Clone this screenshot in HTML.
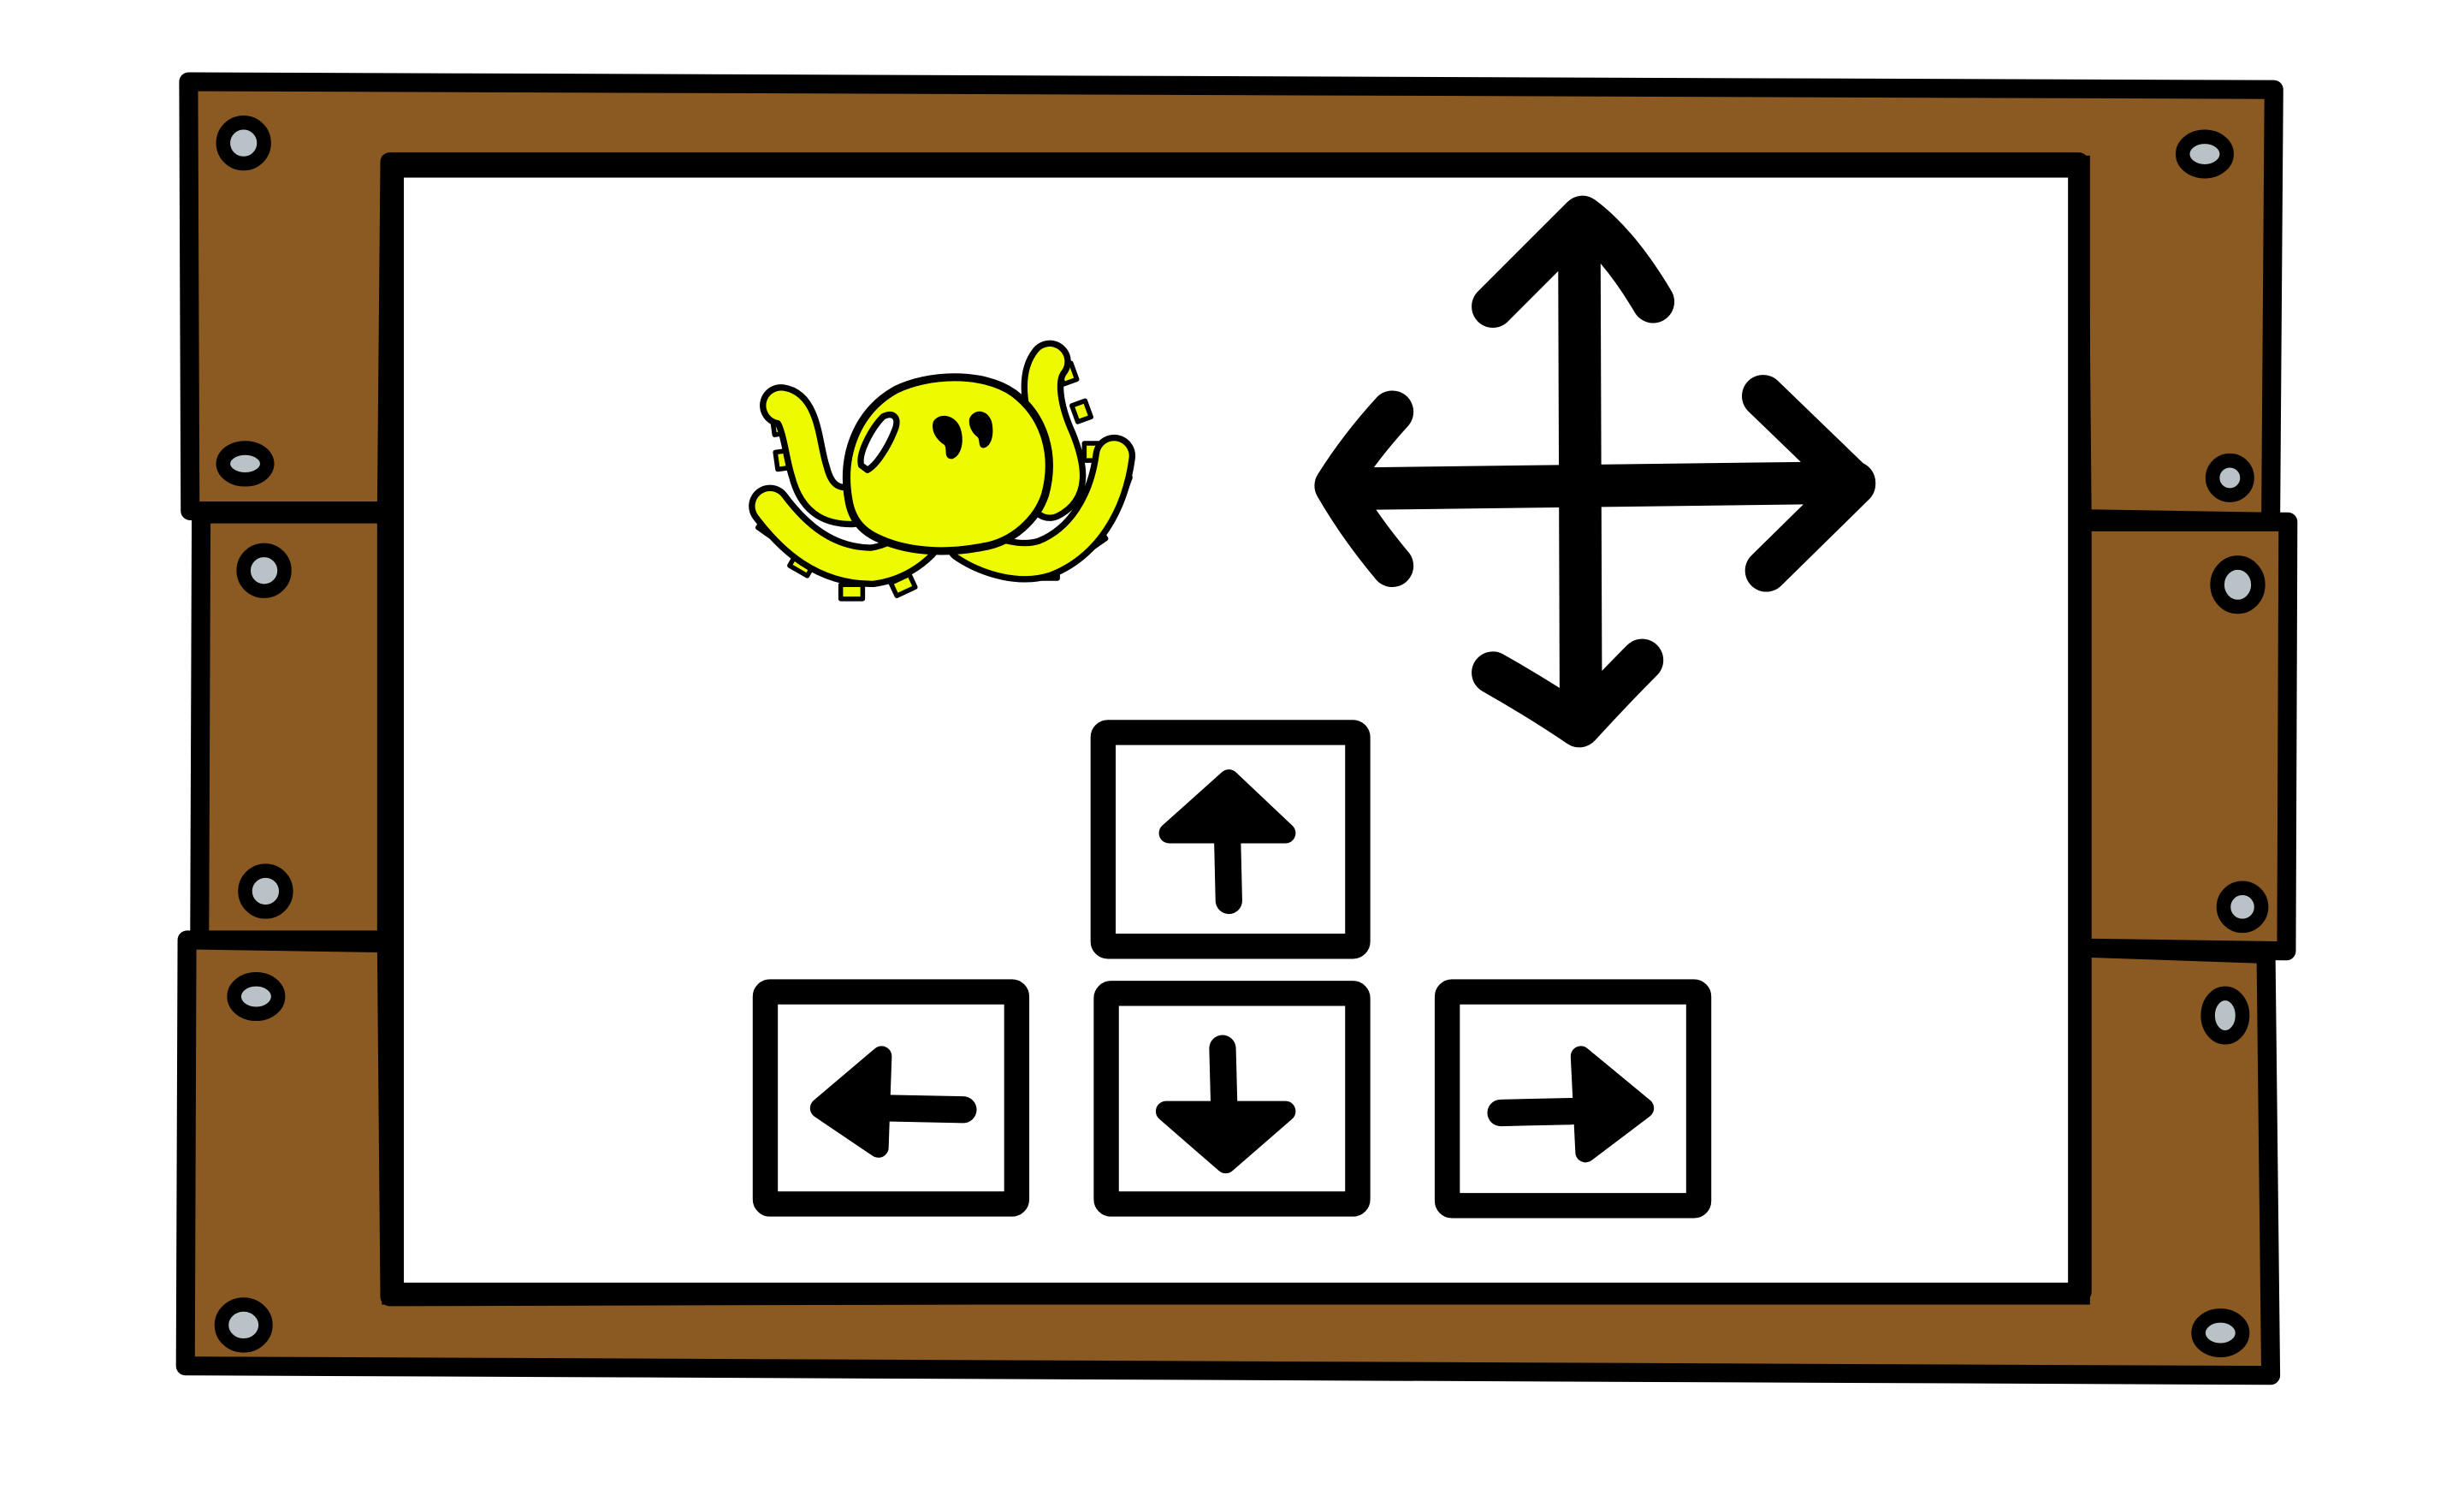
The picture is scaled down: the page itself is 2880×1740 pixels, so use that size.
<!DOCTYPE html>
<html><head><meta charset="utf-8"><style>
html,body{margin:0;padding:0;background:#fff;width:2880px;height:1740px;overflow:hidden}
svg{display:block}
</style></head><body>
<svg width="2880" height="1740" viewBox="0 0 1568 947.3" preserveAspectRatio="none" xmlns="http://www.w3.org/2000/svg">
<g stroke="#000" stroke-width="12" stroke-linejoin="round" fill="#8B5A22">
  <path d="M120,52 L1447,57 L1445,332 L1325,330 L1323,103 L248,103 L246,325 L121,325 Z"/>
  <path d="M128,327 L246,327 L246,598 L127,598 Z"/>
  <path d="M1325,332 L1456,332 L1455,605 L1325,603 Z"/>
  <path d="M119,598 L246,600 L248,825 L1325,822 L1325,603 L1442,607 L1445,875 L118,869 Z"/>
</g>
<rect x="250" y="106" width="1073" height="717" fill="#fff" stroke="#000" stroke-width="14"/>
<g fill="#b9c2c6" stroke="#000" stroke-width="9">
  <ellipse cx="155" cy="91" rx="13" ry="13"/>
  <ellipse cx="156" cy="295" rx="14" ry="10"/>
  <ellipse cx="168" cy="363" rx="13" ry="13"/>
  <ellipse cx="169" cy="567" rx="13" ry="13"/>
  <ellipse cx="163" cy="634" rx="14" ry="11"/>
  <ellipse cx="155" cy="843" rx="14" ry="13"/>
  <ellipse cx="1403" cy="98" rx="14" ry="11"/>
  <ellipse cx="1419" cy="304" rx="11" ry="11"/>
  <ellipse cx="1424" cy="372" rx="13" ry="14"/>
  <ellipse cx="1427" cy="577" rx="12" ry="12"/>
  <ellipse cx="1416" cy="646" rx="11" ry="14"/>
  <ellipse cx="1413" cy="848" rx="14" ry="11"/>
</g>
<g stroke-linecap="round" stroke-linejoin="round" fill="none">
  <g fill="#eefb00" stroke="#000" stroke-width="3">
    <rect x="492" y="265" width="9" height="11" transform="rotate(-8 497 270)"/>
    <rect x="494" y="287" width="9" height="11" transform="rotate(-8 499 292)"/>
    <rect x="484" y="331" width="12" height="9" transform="rotate(35 490 335)"/>
    <rect x="504" y="355" width="13" height="9" transform="rotate(30 511 359)"/>
    <rect x="535" y="372" width="14" height="9"/>
    <rect x="568" y="368" width="13" height="9" transform="rotate(-25 574 372)"/>
    <rect x="628" y="354" width="13" height="9" transform="rotate(20 634 358)"/>
    <rect x="660" y="359" width="13" height="9"/>
    <rect x="691" y="338" width="11" height="9" transform="rotate(-35 696 342)"/>
    <rect x="709" y="301" width="9" height="12" transform="rotate(20 711 306)"/>
    <rect x="690" y="282" width="9" height="11"/>
    <rect x="684" y="257" width="9" height="11" transform="rotate(-20 686 263)"/>
    <rect x="675" y="233" width="9" height="11" transform="rotate(-20 677 239)"/>
  </g>
  <g stroke="#000" stroke-width="27">
    <path d="M497,258 C510,260 510,285 515,300 C520,320 532,322 542,322"/>
    <path d="M490,322 C505,342 525,360 555,360 C570,358 580,350 585,345"/>
    <path d="M668,230 C660,240 663,260 672,280 C680,300 680,312 668,318"/>
    <path d="M709,290 C705,320 690,345 665,355 C650,360 630,355 615,345"/>
  </g>
  <g stroke="#eefb00" stroke-width="19">
    <path d="M497,258 C510,260 510,285 515,300 C520,320 532,322 542,322"/>
    <path d="M490,322 C505,342 525,360 555,360 C570,358 580,350 585,345"/>
    <path d="M668,230 C660,240 663,260 672,280 C680,300 680,312 668,318"/>
    <path d="M709,290 C705,320 690,345 665,355 C650,360 630,355 615,345"/>
  </g>
  <path d="M540,318 C535,290 545,262 570,248 C590,238 625,236 645,250 C665,265 672,290 665,315 C660,330 645,345 625,348 C605,352 580,352 560,343 C548,338 542,330 540,318 Z" fill="#eefb00" stroke="#000" stroke-width="5"/>
  <path d="M548,296 C546,288 555,272 562,265 C568,262 572,265 570,272 C566,283 558,296 552,299 Z" fill="#fff" stroke="#000" stroke-width="4"/>
  <path d="M594,268 C598,262 608,264 611,272 C614,280 612,290 606,292 C600,292 603,286 601,283 C596,280 592,274 594,268 Z" fill="#000"/>
  <path d="M617,266 C620,260 628,260 631,268 C633,276 631,284 626,285 C622,285 624,280 622,278 C618,275 616,270 617,266 Z" fill="#000"/>
</g>
<g stroke="#000" stroke-width="27" stroke-linecap="round" stroke-linejoin="round" fill="none">
  <path d="M1005,148 L1006,448"/>
  <path d="M858,311 L1180,307"/>
  <path d="M950,195 L1007,138 Q1030,155 1052,192"/>
  <path d="M950,428 Q980,445 1005,462 Q1025,440 1045,420"/>
  <path d="M886,262 Q865,285 850,309 Q865,335 886,360"/>
  <path d="M1122,252 L1180,308 L1124,363"/>
</g>
<g stroke="#000" stroke-width="16" stroke-linejoin="round">
  <g>
    <rect x="702" y="466" width="162" height="136" fill="#fff" rx="3"/>
    <path d="M782,573 L781,530" stroke-width="17" stroke-linecap="round" fill="none"/>
    <path d="M744,530 L782,496 L818,530 Z" fill="#000" stroke-width="13"/>
  </g>
  <g>
    <rect x="487" y="631" width="160" height="135" fill="#fff" rx="3"/>
    <path d="M565,705 L613,706" stroke-width="17" stroke-linecap="round" fill="none"/>
    <path d="M561,672 L522,705 L559,730 Z" fill="#000" stroke-width="13"/>
  </g>
  <g>
    <rect x="704" y="632" width="160" height="134" fill="#fff" rx="3"/>
    <path d="M778,667 L779,705" stroke-width="17" stroke-linecap="round" fill="none"/>
    <path d="M742,707 L780,740 L818,707 Z" fill="#000" stroke-width="13"/>
  </g>
  <g>
    <rect x="921" y="631" width="160" height="136" fill="#fff" rx="3"/>
    <path d="M955,708 L1000,707" stroke-width="17" stroke-linecap="round" fill="none"/>
    <path d="M1006,672 L1046,705 L1009,733 Z" fill="#000" stroke-width="13"/>
  </g>
</g>
</svg>
</body></html>
